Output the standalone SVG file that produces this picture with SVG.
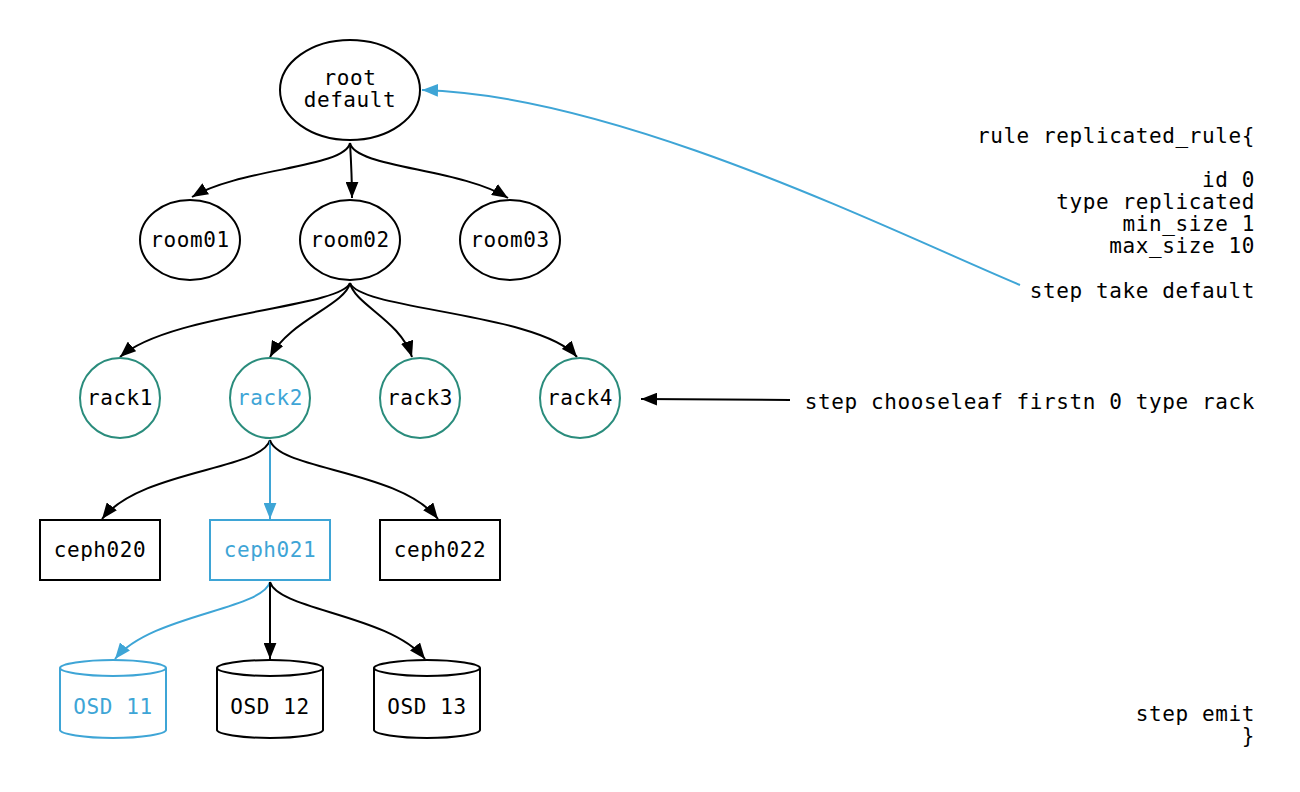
<svg xmlns="http://www.w3.org/2000/svg" width="1300" height="792" viewBox="0 0 1300 792">
<defs>
<style>
text{font-family:"DejaVu Sans Mono","Liberation Mono",monospace;font-size:21px;letter-spacing:0.6px;fill:#000;}
.c{text-anchor:middle;}
.r{text-anchor:end;}
.blue{fill:#3ea5d6;}
.node{fill:#fff;stroke:#000;stroke-width:2;}
.bnode{fill:#fff;stroke:#3ea5d6;stroke-width:2;}
.tnode{fill:#fff;stroke:#2a8c7c;stroke-width:2;}
.e{fill:none;stroke:#000;stroke-width:2;}
.be{fill:none;stroke:#3ea5d6;stroke-width:2;}
</style>
<marker id="ak" viewBox="0 0 10 8" refX="10" refY="4" markerWidth="16" markerHeight="13" markerUnits="userSpaceOnUse" orient="auto"><path d="M0,0 L10,4 L0,8 Z" fill="#000"/></marker>
<marker id="ab" viewBox="0 0 10 8" refX="10" refY="4" markerWidth="16" markerHeight="13" markerUnits="userSpaceOnUse" orient="auto"><path d="M0,0 L10,4 L0,8 Z" fill="#3ea5d6"/></marker>
</defs>
<rect width="1300" height="792" fill="#fff"/>
<g id="edges">
<path class="e" d="M350,143 C345,168 240,168 192,197" marker-end="url(#ak)"/>
<path class="e" d="M350,143 C351,160 352,178 352,198" marker-end="url(#ak)"/>
<path class="e" d="M350,143 C355,168 460,168 508,198" marker-end="url(#ak)"/>
<path class="e" d="M350,283 C340,308 170,313 120,357" marker-end="url(#ak)"/>
<path class="e" d="M350,283 C345,305 290,320 270,357" marker-end="url(#ak)"/>
<path class="e" d="M350,283 C355,305 400,320 412,357" marker-end="url(#ak)"/>
<path class="e" d="M350,283 C360,310 540,313 577,357" marker-end="url(#ak)"/>
<path class="e" d="M270,440 C262,470 140,470 102,519" marker-end="url(#ak)"/>
<path class="be" d="M270,440 L270,519" marker-end="url(#ab)"/>
<path class="e" d="M270,440 C278,470 400,470 438,519" marker-end="url(#ak)"/>
<path class="be" d="M270,582 C262,610 150,615 115,659" marker-end="url(#ab)"/>
<path class="e" d="M270,582 L270,659" marker-end="url(#ak)"/>
<path class="e" d="M270,582 C278,610 390,615 425,659" marker-end="url(#ak)"/>
<path class="be" d="M1020,285 C900,235 620,95 422,90" marker-end="url(#ab)"/>
<path class="e" d="M790,400 L641,399" marker-end="url(#ak)"/>
</g>
<g id="root"><ellipse class="node" cx="350" cy="90" rx="70" ry="50"/><text class="c" x="350" y="85">root</text><text class="c" x="350" y="107">default</text></g>
<g id="room01"><ellipse class="node" cx="190" cy="240" rx="50" ry="40"/><text class="c" x="190" y="247">room01</text></g>
<g id="room02"><ellipse class="node" cx="350" cy="240" rx="50" ry="40"/><text class="c" x="350" y="247">room02</text></g>
<g id="room03"><ellipse class="node" cx="510" cy="240" rx="50" ry="40"/><text class="c" x="510" y="247">room03</text></g>
<g id="rack1"><circle class="tnode" cx="120" cy="398" r="40"/><text class="c" x="120" y="405">rack1</text></g>
<g id="rack2"><circle class="tnode" cx="270" cy="398" r="40"/><text class="c blue" x="270" y="405">rack2</text></g>
<g id="rack3"><circle class="tnode" cx="420" cy="398" r="40"/><text class="c" x="420" y="405">rack3</text></g>
<g id="rack4"><circle class="tnode" cx="580" cy="398" r="40"/><text class="c" x="580" y="405">rack4</text></g>
<g id="ceph020"><rect class="node" x="40" y="520" width="120" height="60"/><text class="c" x="100" y="557">ceph020</text></g>
<g id="ceph021"><rect class="bnode" x="210" y="520" width="120" height="60"/><text class="c blue" x="270" y="557">ceph021</text></g>
<g id="ceph022"><rect class="node" x="380" y="520" width="120" height="60"/><text class="c" x="440" y="557">ceph022</text></g>
<g id="osd11"><path class="bnode" d="M166,668 C166,672 142,676 113,676 C84,676 60,672 60,668 C60,664 84,660 113,660 C142,660 166,664 166,668 L166,730 C166,734 142,738 113,738 C84,738 60,734 60,730 L60,668"/><text class="c blue" x="113" y="714">OSD 11</text></g>
<g id="osd12"><path class="node" d="M323,668 C323,672 299,676 270,676 C241,676 217,672 217,668 C217,664 241,660 270,660 C299,660 323,664 323,668 L323,730 C323,734 299,738 270,738 C241,738 217,734 217,730 L217,668"/><text class="c" x="270" y="714">OSD 12</text></g>
<g id="osd13"><path class="node" d="M480,668 C480,672 456,676 427,676 C398,676 374,672 374,668 C374,664 398,660 427,660 C456,660 480,664 480,668 L480,730 C480,734 456,738 427,738 C398,738 374,734 374,730 L374,668"/><text class="c" x="427" y="714">OSD 13</text></g>
<g id="rule">
<text class="r" x="1255" y="143">rule replicated_rule{</text>
<text class="r" x="1255" y="187">id 0</text>
<text class="r" x="1255" y="209">type replicated</text>
<text class="r" x="1255" y="231">min_size 1</text>
<text class="r" x="1255" y="253">max_size 10</text>
<text class="r" x="1255" y="298">step take default</text>
<text class="r" x="1255" y="409">step chooseleaf firstn 0 type rack</text>
<text class="r" x="1255" y="721">step emit</text>
<text class="r" x="1255" y="743">}</text>
</g>
</svg>
